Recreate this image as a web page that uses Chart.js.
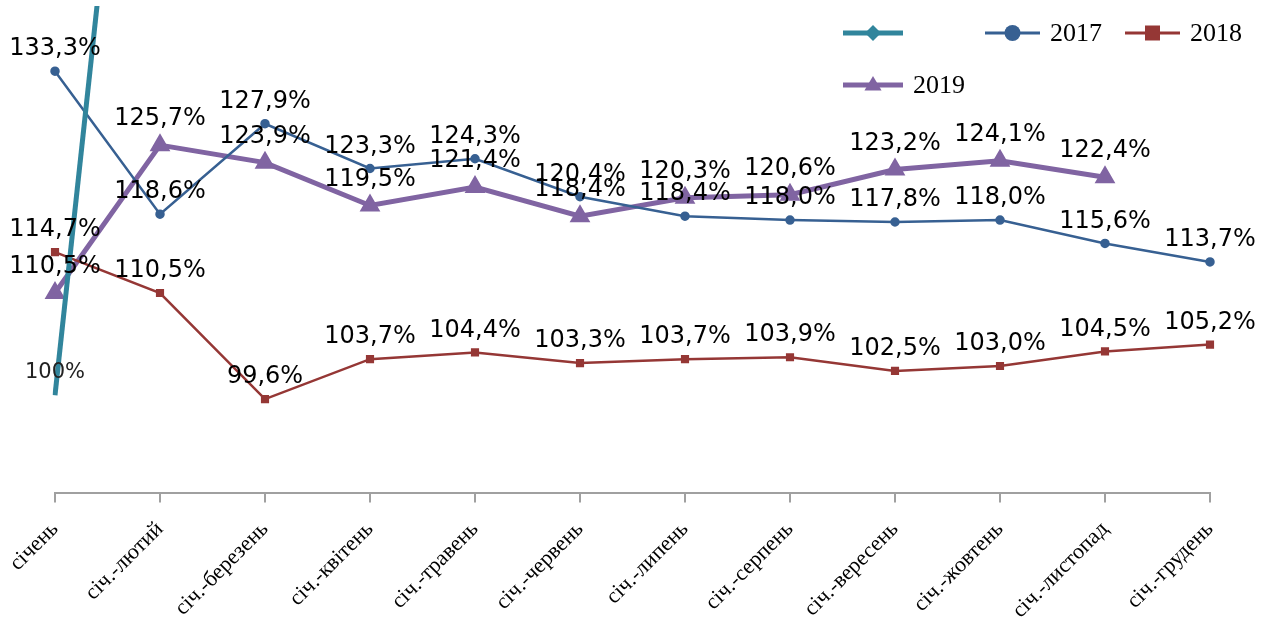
<!DOCTYPE html>
<html><head><meta charset="utf-8">
<script src="https://cdn.jsdelivr.net/npm/chart.js@4/dist/chart.umd.min.js"></script>
<style>html,body{margin:0;padding:0;background:#fff}#wrap{width:1279px;height:622px}</style>
</head><body><div id="wrap"><canvas id="c" width="1279" height="622"></canvas></div>
<script>
const categories = ['січень','січ.-лютий','січ.-березень','січ.-квітень','січ.-травень','січ.-червень','січ.-липень','січ.-серпень','січ.-вересень','січ.-жовтень','січ.-листопад','січ.-грудень'];
const base = [100, 200];
const y2017 = [133.3,118.6,127.9,123.3,124.3,120.4,118.4,118.0,117.8,118.0,115.6,113.7];
const y2018 = [114.7,110.5,99.6,103.7,104.4,103.3,103.7,103.9,102.5,103.0,104.5,105.2];
const y2019 = [110.5,125.7,123.9,119.5,121.4,118.4,120.3,120.6,123.2,124.1,122.4];
const yMin = 90, yMax = 140;

const C_TEAL = '#31859C', C17 = '#376092', C18 = '#953735', C19 = '#8064A2';

function fmt(v, d){ return v.toFixed(d).replace('.', ',') + '%'; }

const labelPlugin = {
  id: 'vlabels',
  afterDatasetsDraw(chart){
    const ctx = chart.ctx, area = chart.chartArea;
    ctx.save();
    ctx.textAlign = 'center';
    ctx.textBaseline = 'middle';
    chart.data.datasets.forEach((ds, i) => {
      const meta = chart.getDatasetMeta(i);
      meta.data.forEach((pt, j) => {
        const v = ds.data[j];
        if (v == null || pt.y < area.top || pt.y > area.bottom) return;
        if (i === 0) { ctx.font = '21px "DejaVu Sans"'; ctx.fillStyle = '#222'; }
        else { ctx.font = '24px "DejaVu Sans"'; ctx.fillStyle = '#000'; }
        const off = ds.labelOffset || 22;
        ctx.fillText(fmt(v, ds.decimals), pt.x, pt.y - off);
      });
    });
    ctx.restore();
  }
};

function marker(ctx, style, x, y, r, color){
  ctx.fillStyle = color;
  ctx.beginPath();
  if (style === 'rectRot'){ ctx.moveTo(x, y-r); ctx.lineTo(x+r, y); ctx.lineTo(x, y+r); ctx.lineTo(x-r, y); }
  else if (style === 'circle'){ ctx.arc(x, y, r, 0, Math.PI*2); }
  else if (style === 'rect'){ ctx.rect(x-r, y-r, 2*r, 2*r); }
  else if (style === 'triangle'){ ctx.moveTo(x, y-r); ctx.lineTo(x+r*0.95, y+r*0.6); ctx.lineTo(x-r*0.95, y+r*0.6); }
  ctx.closePath();
  ctx.fill();
}

const legendPlugin = {
  id: 'customLegend',
  afterDraw(chart){
    const ctx = chart.ctx;
    const items = [
      {x0:843, x1:903, y:33, w:5, c:C_TEAL, s:'rectRot', r:8, t:''},
      {x0:985, x1:1040, y:33, w:3, c:C17, s:'circle', r:8, t:'2017'},
      {x0:1125, x1:1180, y:33, w:3, c:C18, s:'rect', r:7.5, t:'2018'},
      {x0:843, x1:903, y:85, w:5, c:C19, s:'triangle', r:9, t:'2019'}
    ];
    ctx.save();
    items.forEach(it => {
      ctx.strokeStyle = it.c; ctx.lineWidth = it.w;
      ctx.beginPath(); ctx.moveTo(it.x0, it.y); ctx.lineTo(it.x1, it.y); ctx.stroke();
      marker(ctx, it.s, (it.x0+it.x1)/2, it.y, it.r, it.c);
      if (it.t){
        ctx.fillStyle = '#000'; ctx.font = '26px "Liberation Serif"';
        ctx.textAlign = 'left'; ctx.textBaseline = 'middle';
        ctx.fillText(it.t, it.x1 + 10, it.y + 1);
      }
    });
    ctx.restore();
  }
};

new Chart(document.getElementById('c'), {
  type: 'line',
  data: {
    labels: categories,
    datasets: [
      {label:'', data: base, borderColor: C_TEAL, backgroundColor: C_TEAL, borderWidth: 5, pointRadius: 0, pointStyle:'rectRot', labelOffset: 23, decimals: 0},
      {label:'2017', data: y2017, borderColor: C17, backgroundColor: C17, borderWidth: 2.5, pointRadius: 3.5, pointStyle:'circle', labelOffset: 22, decimals: 1},
      {label:'2018', data: y2018, borderColor: C18, backgroundColor: C18, borderWidth: 2.5, pointRadius: 4, pointStyle:'rect', labelOffset: 22, decimals: 1},
      {label:'2019', data: y2019, borderColor: C19, backgroundColor: C19, borderWidth: 5, pointRadius: 7, pointStyle:'triangle', labelOffset: 26, decimals: 1}
    ]
  },
  options: {
    responsive: false,
    animation: false,
    devicePixelRatio: 1,
    layout: { autoPadding: false, padding: { left: 55, right: 69, top: 6, bottom: 0 } },
    plugins: { legend: { display: false }, tooltip: { enabled: false } },
    scales: {
      x: {
        type: 'category',
        offset: false,
        border: { display: true, color: '#a0a0a0', width: 2 },
        grid: { display: true, drawOnChartArea: false, drawTicks: true, tickLength: 10, color: '#a0a0a0', lineWidth: 2 },
        ticks: { minRotation: 45, maxRotation: 45, autoSkip: false, padding: 14, color: '#000', font: { family: 'Liberation Serif', size: 22 } },
        afterFit(s){ s.height = 129.5; s.paddingLeft = 0; s.paddingRight = 0; s.paddingTop = 0; s.paddingBottom = 0; }
      },
      y: { display: false, min: yMin, max: yMax }
    }
  },
  plugins: [labelPlugin, legendPlugin]
});
</script>
</body></html>
